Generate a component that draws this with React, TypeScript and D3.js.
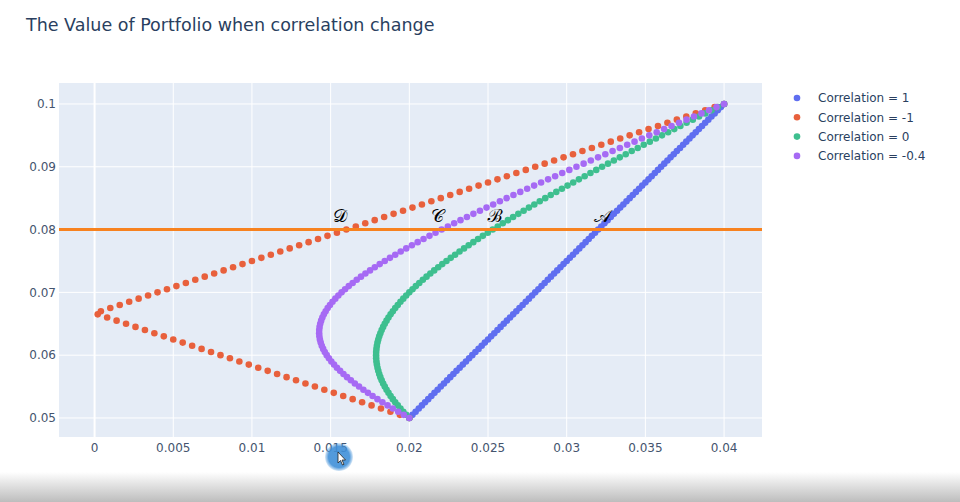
import React from "react";
import * as d3 from "d3";

// Expected return for each portfolio weight (shared by all series)
const returns = [
  0.05, 0.0505, 0.051, 0.0515, 0.052, 0.0525, 0.053, 0.0535, 0.054, 0.0545,
  0.055, 0.0555, 0.056, 0.0565, 0.057, 0.0575, 0.058, 0.0585, 0.059, 0.0595,
  0.06, 0.0605, 0.061, 0.0615, 0.062, 0.0625, 0.063, 0.0635, 0.064, 0.0645,
  0.065, 0.0655, 0.066, 0.0665, 0.067, 0.0675, 0.068, 0.0685, 0.069, 0.0695,
  0.07, 0.0705, 0.071, 0.0715, 0.072, 0.0725, 0.073, 0.0735, 0.074, 0.0745,
  0.075, 0.0755, 0.076, 0.0765, 0.077, 0.0775, 0.078, 0.0785, 0.079, 0.0795,
  0.08, 0.0805, 0.081, 0.0815, 0.082, 0.0825, 0.083, 0.0835, 0.084, 0.0845,
  0.085, 0.0855, 0.086, 0.0865, 0.087, 0.0875, 0.088, 0.0885, 0.089, 0.0895,
  0.09, 0.0905, 0.091, 0.0915, 0.092, 0.0925, 0.093, 0.0935, 0.094, 0.0945,
  0.095, 0.0955, 0.096, 0.0965, 0.097, 0.0975, 0.098, 0.0985, 0.099, 0.0995,
  0.1,
];

// Portfolio risk, correlation = 1
const sdCorr1 = [
  0.02, 0.0202, 0.0204, 0.0206, 0.0208, 0.021, 0.0212, 0.0214, 0.0216, 0.0218,
  0.022, 0.0222, 0.0224, 0.0226, 0.0228, 0.023, 0.0232, 0.0234, 0.0236, 0.0238,
  0.024, 0.0242, 0.0244, 0.0246, 0.0248, 0.025, 0.0252, 0.0254, 0.0256, 0.0258,
  0.026, 0.0262, 0.0264, 0.0266, 0.0268, 0.027, 0.0272, 0.0274, 0.0276, 0.0278,
  0.028, 0.0282, 0.0284, 0.0286, 0.0288, 0.029, 0.0292, 0.0294, 0.0296, 0.0298,
  0.03, 0.0302, 0.0304, 0.0306, 0.0308, 0.031, 0.0312, 0.0314, 0.0316, 0.0318,
  0.032, 0.0322, 0.0324, 0.0326, 0.0328, 0.033, 0.0332, 0.0334, 0.0336, 0.0338,
  0.034, 0.0342, 0.0344, 0.0346, 0.0348, 0.035, 0.0352, 0.0354, 0.0356, 0.0358,
  0.036, 0.0362, 0.0364, 0.0366, 0.0368, 0.037, 0.0372, 0.0374, 0.0376, 0.0378,
  0.038, 0.0382, 0.0384, 0.0386, 0.0388, 0.039, 0.0392, 0.0394, 0.0396, 0.0398,
  0.04,
];

// Portfolio risk, correlation = -1
const sdCorrNeg1 = [
  0.02, 0.0194, 0.0188, 0.0182, 0.0176, 0.017, 0.0164, 0.0158, 0.0152, 0.0146,
  0.014, 0.0134, 0.0128, 0.0122, 0.0116, 0.011, 0.0104, 0.0098, 0.0092, 0.0086,
  0.008, 0.0074, 0.0068, 0.0062, 0.0056, 0.005, 0.0044, 0.0038, 0.0032, 0.0026,
  0.002, 0.0014, 0.0008, 0.0002, 0.0004, 0.001, 0.0016, 0.0022, 0.0028, 0.0034,
  0.004, 0.0046, 0.0052, 0.0058, 0.0064, 0.007, 0.0076, 0.0082, 0.0088, 0.0094,
  0.01, 0.0106, 0.0112, 0.0118, 0.0124, 0.013, 0.0136, 0.0142, 0.0148, 0.0154,
  0.016, 0.0166, 0.0172, 0.0178, 0.0184, 0.019, 0.0196, 0.0202, 0.0208, 0.0214,
  0.022, 0.0226, 0.0232, 0.0238, 0.0244, 0.025, 0.0256, 0.0262, 0.0268, 0.0274,
  0.028, 0.0286, 0.0292, 0.0298, 0.0304, 0.031, 0.0316, 0.0322, 0.0328, 0.0334,
  0.034, 0.0346, 0.0352, 0.0358, 0.0364, 0.037, 0.0376, 0.0382, 0.0388, 0.0394,
  0.04,
];

// Portfolio risk, correlation = 0
const sdCorr0 = [
  0.02, 0.019804, 0.019616, 0.019437, 0.019267, 0.019105, 0.018953, 0.01881, 0.018676, 0.018553,
  0.018439, 0.018336, 0.018243, 0.01816, 0.018089, 0.018028, 0.017978, 0.017939, 0.017911, 0.017894,
  0.017889, 0.017894, 0.017911, 0.017939, 0.017978, 0.018028, 0.018089, 0.01816, 0.018243, 0.018336,
  0.018439, 0.018553, 0.018676, 0.01881, 0.018953, 0.019105, 0.019267, 0.019437, 0.019616, 0.019804,
  0.02, 0.020204, 0.020416, 0.020635, 0.020861, 0.021095, 0.021335, 0.021582, 0.021836, 0.022095,
  0.022361, 0.022632, 0.022909, 0.023191, 0.023478, 0.02377, 0.024067, 0.024368, 0.024674, 0.024984,
  0.025298, 0.025616, 0.025938, 0.026264, 0.026593, 0.026926, 0.027262, 0.027601, 0.027943, 0.028288,
  0.028636, 0.028986, 0.029339, 0.029695, 0.030053, 0.030414, 0.030777, 0.031142, 0.031509, 0.031878,
  0.032249, 0.032622, 0.032997, 0.033374, 0.033752, 0.034132, 0.034514, 0.034897, 0.035282, 0.035668,
  0.036056, 0.036444, 0.036835, 0.037226, 0.037619, 0.038013, 0.038408, 0.038805, 0.039202, 0.039601,
  0.04,
];

// Portfolio risk, correlation = -0.4
const sdCorrNeg04 = [
  0.02, 0.019643, 0.019294, 0.018952, 0.018618, 0.018292, 0.017975, 0.017667, 0.017369, 0.017082,
  0.016805, 0.016539, 0.016285, 0.016044, 0.015816, 0.015601, 0.015401, 0.015215, 0.015045, 0.01489,
  0.014751, 0.01463, 0.014525, 0.014438, 0.014369, 0.014318, 0.014285, 0.014271, 0.014275, 0.014298,
  0.014339, 0.014398, 0.014475, 0.01457, 0.014683, 0.014812, 0.014958, 0.01512, 0.015298, 0.01549,
  0.015697, 0.015918, 0.016152, 0.016399, 0.016658, 0.016929, 0.017211, 0.017504, 0.017806, 0.018118,
  0.018439, 0.018769, 0.019106, 0.019452, 0.019805, 0.020164, 0.020531, 0.020903, 0.021281, 0.021665,
  0.022054, 0.022449, 0.022848, 0.023251, 0.023659, 0.024071, 0.024486, 0.024906, 0.025329, 0.025755,
  0.026184, 0.026616, 0.027051, 0.027489, 0.02793, 0.028373, 0.028818, 0.029265, 0.029715, 0.030167,
  0.03062, 0.031076, 0.031533, 0.031992, 0.032453, 0.032915, 0.033379, 0.033844, 0.034311, 0.034778,
  0.035248, 0.035718, 0.03619, 0.036662, 0.037136, 0.037611, 0.038087, 0.038564, 0.039042, 0.03952,
  0.04,
];

const seriesNames = ["Correlation = 1", "Correlation = -1", "Correlation = 0", "Correlation = -0.4"];
const seriesRisk = [sdCorr1, sdCorrNeg1, sdCorr0, sdCorrNeg04];
const seriesColors = ["#5f6ef0", "#e8603c", "#3ebf8f", "#a66af4"];

const xTicks = [0, 0.005, 0.01, 0.015, 0.02, 0.025, 0.03, 0.035, 0.04];
const xTickLabels = ["0", "0.005", "0.01", "0.015", "0.02", "0.025", "0.03", "0.035", "0.04"];
const yTicks = [0.05, 0.06, 0.07, 0.08, 0.09, 0.1];
const yTickLabels = ["0.05", "0.06", "0.07", "0.08", "0.09", "0.1"];

const targetReturn = 0.08;
const annotationLabels = ["\u{1D49C}", "\u212C", "\u{1D49E}", "\u{1D49F}"];
const annotationX = [0.0323, 0.02545, 0.0218, 0.0156];
const annotationY = [0.0822, 0.0822, 0.0822, 0.0822];

const title = "The Value of Portfolio when correlation change";

const W = 960;
const H = 502;
const plot = { left: 59, right: 762, top: 83, bottom: 437 };
const FONT = "'DejaVu Sans', Verdana, sans-serif";
const TEXT = "#2a3f5f";
const TICK = "#44546e";

export default function App() {
  const x = d3.scaleLinear().domain([-0.00226, 0.04241]).range([plot.left, plot.right]);
  const y = d3.scaleLinear().domain([0.04697, 0.10334]).range([plot.bottom, plot.top]);

  return (
    <div style={{ position: "fixed", left: 0, top: 0, width: W, height: H, background: "#fff" }}>
      <svg width={W} height={H} style={{ display: "block" }}>
        <defs>
          <linearGradient id="band" x1="0" y1="0" x2="0" y2="1">
            <stop offset="0" stopColor="#ffffff" />
            <stop offset="0.4" stopColor="#e4e4e4" />
            <stop offset="1" stopColor="#bdbdbd" />
          </linearGradient>
          <radialGradient id="cursorGlow" cx="0.5" cy="0.5" r="0.5">
            <stop offset="0.75" stopColor="#3f8fd8" stopOpacity={0.9} />
            <stop offset="1" stopColor="#3f8fd8" stopOpacity={0.2} />
          </radialGradient>
          <clipPath id="plotclip">
            <rect x={plot.left} y={plot.top} width={plot.right - plot.left} height={plot.bottom - plot.top} />
          </clipPath>
        </defs>
        <rect x={0} y={0} width={W} height={H} fill="#fff" />
        <text x={26} y={31} fontFamily={FONT} fontSize={17.5} fill={TEXT}>
          {title}
        </text>

        <rect
          x={plot.left}
          y={plot.top}
          width={plot.right - plot.left}
          height={plot.bottom - plot.top}
          fill="#e5ecf6"
        />
        {xTicks.map((t) => (
          <line
            key={"gx" + t}
            x1={x(t)}
            x2={x(t)}
            y1={plot.top}
            y2={plot.bottom}
            stroke="#fff"
            strokeWidth={t === 0 ? 2 : 1}
          />
        ))}
        {yTicks.map((t) => (
          <line key={"gy" + t} x1={plot.left} x2={plot.right} y1={y(t)} y2={y(t)} stroke="#fff" strokeWidth={1} />
        ))}

        <g clipPath="url(#plotclip)">
          {seriesRisk.map((risk, si) => (
            <g key={seriesNames[si]}>
              {risk.map((r, i) => (
                <circle key={i} cx={x(r)} cy={y(returns[i])} r={3.3} fill={seriesColors[si]} />
              ))}
            </g>
          ))}
        </g>

        <line
          x1={plot.left}
          x2={plot.right}
          y1={y(targetReturn)}
          y2={y(targetReturn)}
          stroke="#f7821f"
          strokeWidth={3}
        />

        {annotationLabels.map((lab, i) => (
          <text
            key={lab}
            x={x(annotationX[i])}
            y={y(annotationY[i])}
            textAnchor="middle"
            dominantBaseline="central"
            fontFamily="'DejaVu Serif', 'Noto Sans', serif"
            fontSize={18}
            fill="#000"
          >
            {lab}
          </text>
        ))}

        {xTicks.map((t, i) => (
          <text
            key={"tx" + t}
            x={x(t)}
            y={452}
            textAnchor="middle"
            fontFamily={FONT}
            fontSize={12}
            fill={TICK}
          >
            {xTickLabels[i]}
          </text>
        ))}
        {yTicks.map((t, i) => (
          <text
            key={"ty" + t}
            x={56}
            y={y(t)}
            dy="0.35em"
            textAnchor="end"
            fontFamily={FONT}
            fontSize={12}
            fill={TICK}
          >
            {yTickLabels[i]}
          </text>
        ))}

        {seriesNames.map((name, i) => (
          <g key={"lg" + name} transform={`translate(797, ${98 + i * 19.3})`}>
            <circle cx={0} cy={0} r={3.3} fill={seriesColors[i]} />
            <text x={21} y={0} dy="0.35em" fontFamily={FONT} fontSize={12} fill={TEXT}>
              {name}
            </text>
          </g>
        ))}

        <rect x={0} y={472} width={W} height={30} fill="url(#band)" />
        <circle cx={339} cy={457} r={14} fill="url(#cursorGlow)" />
        <path
          d="M338,452 L338,463 L340.5,460.5 L342.5,465 L344,464.3 L342,460 L345.5,460 Z"
          fill="#fff"
          stroke="#222"
          strokeWidth={0.8}
        />
      </svg>
    </div>
  );
}
